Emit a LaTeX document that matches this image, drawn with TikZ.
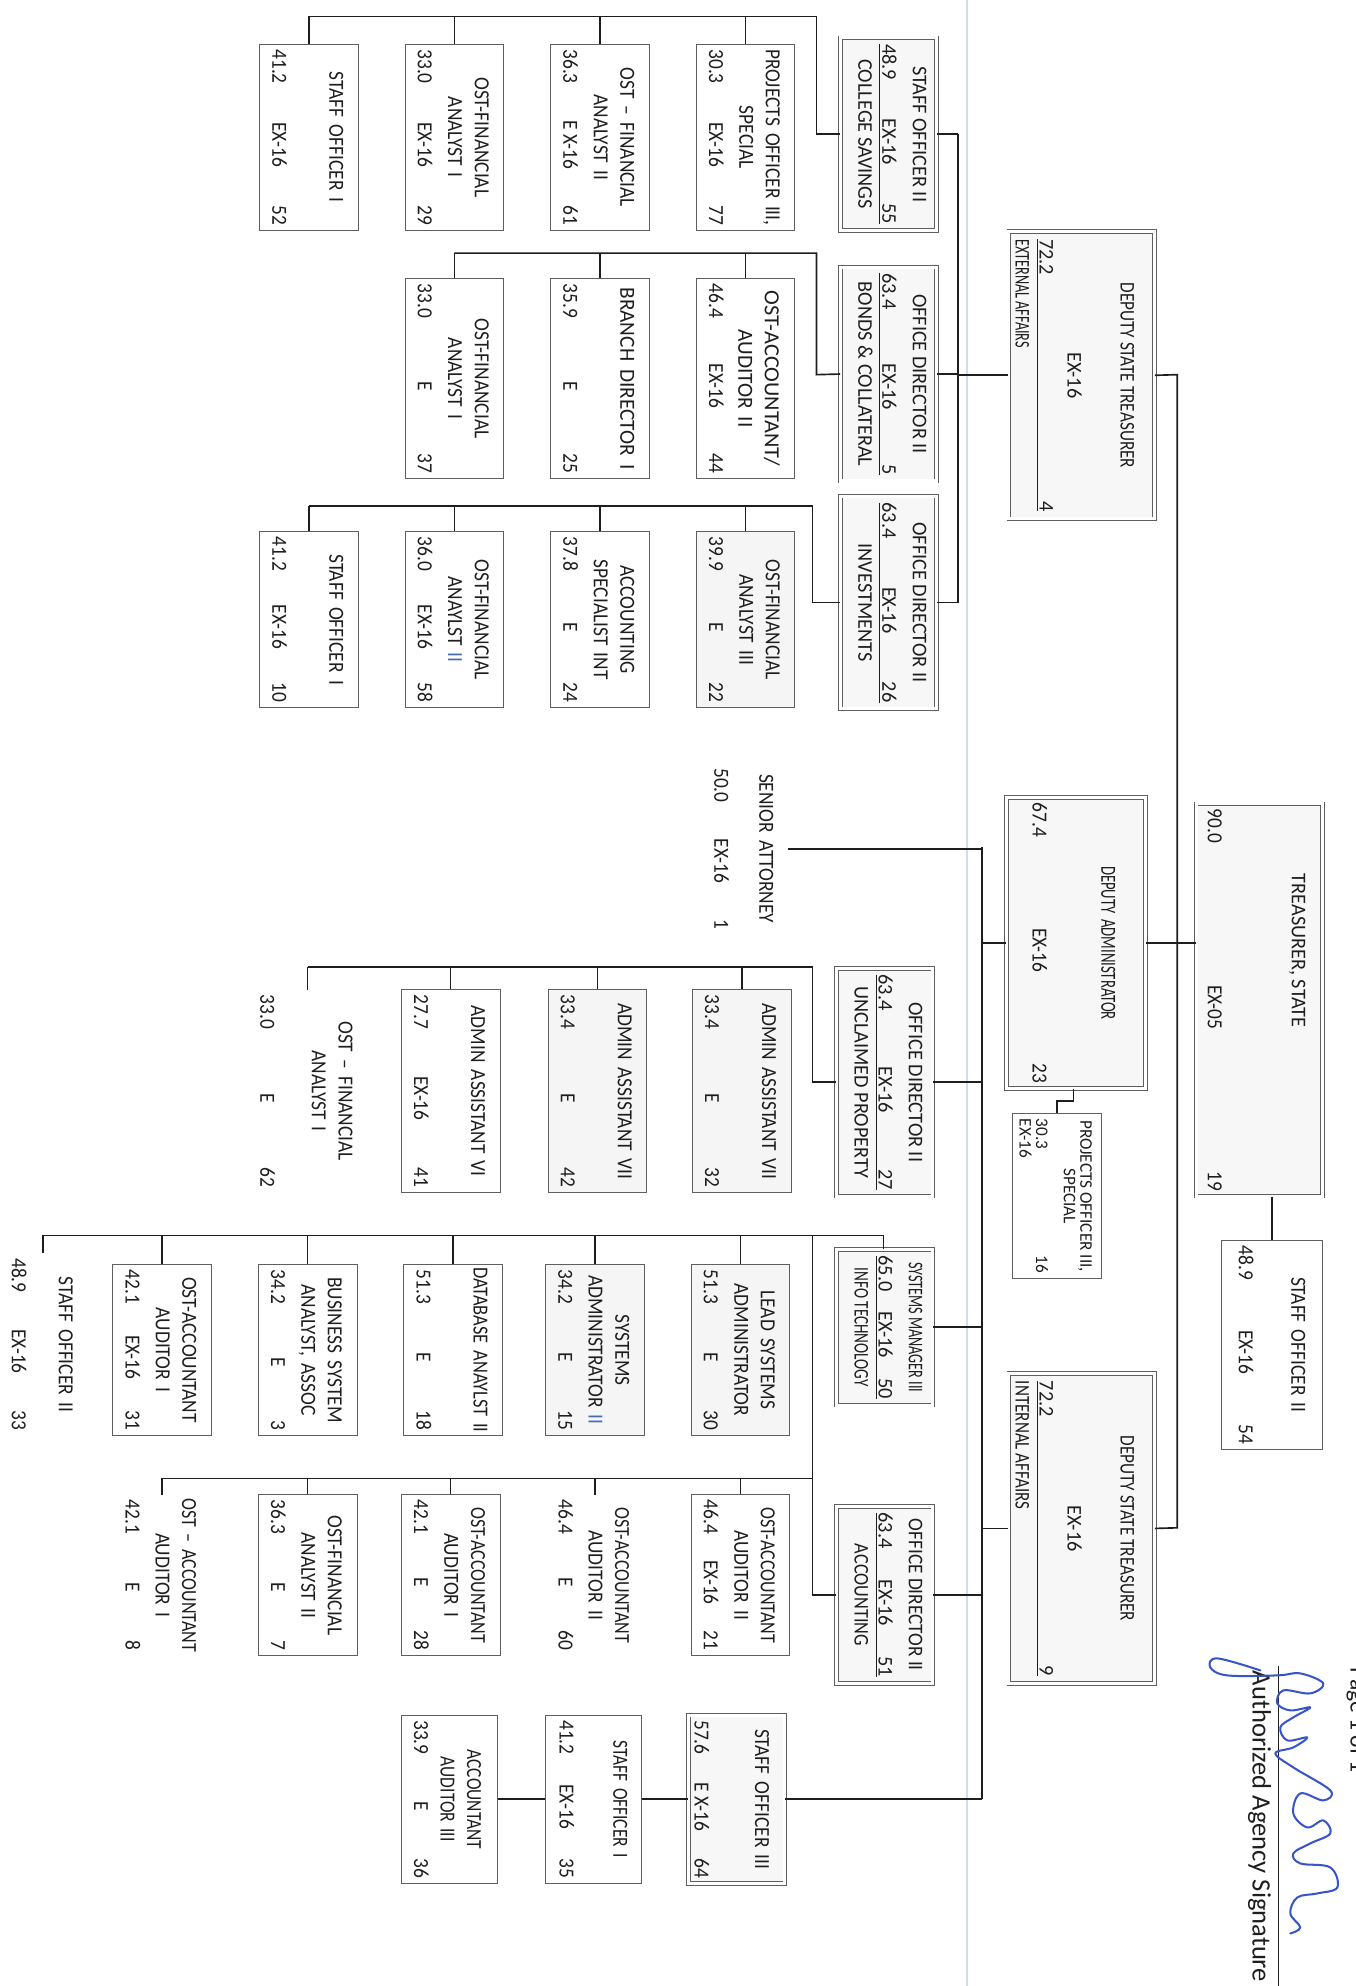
\documentclass[tikz,border=0pt]{standalone}
\usepackage{fontspec}
\usepackage{graphicx}
\setmainfont{Carlito}
\newfontfamily\chf[FakeStretch=0.9]{Carlito}
\newfontfamily\hdf[FakeStretch=0.97]{Carlito}
\usetikzlibrary{calc}
\definecolor{ink}{RGB}{30,30,30}
\definecolor{boxline}{RGB}{95,95,95}
\definecolor{fold}{RGB}{205,222,238}
\definecolor{sigblue}{RGB}{55,85,200}
\definecolor{iiblue}{RGB}{70,110,170}
\tikzset{
  conn/.style={draw=ink, line width=1.3pt},
  cbox/.style={draw=boxline, line width=0.7pt, fill=white, rectangle, inner sep=0pt},
  gbox/.style={cbox, fill=black!4},
  nobox/.style={draw=none, rectangle, inner sep=0pt},
  hbox/.style={draw=boxline, line width=0.6pt, double=white, double distance=2.4pt, fill=black!3, rectangle, inner sep=0pt},
  ttl/.style={font=\chf\fontsize{17}{21}\selectfont, align=center, inner sep=0pt, text=ink},
  rowt/.style={font=\chf\fontsize{17}{21}\selectfont, inner sep=0pt, text=ink},
  htxt/.style={font=\hdf\fontsize{16.5}{20}\selectfont, inner sep=0pt, text=ink},
}
\newcommand\sx[2]{\scalebox{#1}[1]{#2}}
\newcommand\tpad{12}
\newcommand\bpad{10.5}
\newcommand\bw{78}
% [style]{name}{cx}{ytop}{ybot}{title}{row}
\newcommand\chbox[7][cbox]{%
  \pgfmathsetmacro\cy{(#4+#5)/2}%
  \pgfmathsetmacro\bl{#5-#4}%
  \pgfmathsetmacro\tw{#5-#4-4}%
  \pgfmathsetmacro\rw{#5-#4-8}%
  \node[#1, minimum width=\bl pt, minimum height=\bw pt] (#2) at (\cy,#3) {};
  \node[ttl, text width=\tw pt, anchor=north] (#2t) at ([yshift=-\tpad pt]#2.north) {#6};
  \node[rowt, anchor=base] (#2r) at ([yshift=\bpad pt]#2.south) {\hbox to \rw pt{#7}};
}
\newcommand\hcen[1]{\hbox to\hsize{\hfil #1\hfil}}
\newcommand\hrow[1]{\hbox to\hsize{#1}\kern1.5pt\hrule height .8pt\kern2.5pt}
\newcommand\hlft[1]{\hbox to\hsize{\strut #1\hfil}}
% {name}{cx}{w}{ytop}{ybot}{content}
\newcommand\hdbox[6]{%
  \pgfmathsetmacro\cy{(#4+#5)/2}%
  \pgfmathsetmacro\bl{#5-#4}%
  \pgfmathsetmacro\tw{#5-#4-10}%
  \node[hbox, minimum width=\bl pt, minimum height=#3pt] (#1) at (\cy,#2) {};
  \node[htxt] (#1t) at (#1.center) {\vbox{\hsize=\tw pt\relax #6}};
}
\newcommand\II{\textcolor{iiblue}{II}}
\begin{document}
\begin{tikzpicture}[x=1pt,y=1pt]
\fill[white] (0,0) rectangle (1071,-1569);
\useasboundingbox (0,0) rectangle (1071,-1569);
\draw[fold, line width=1.2pt] (764,0) -- (764,-1569);

\begin{scope}[rotate=-90,transform shape]
% ---------- top level ----------
\renewcommand\bw{100}\renewcommand\tpad{14}\renewcommand\bpad{9.5}
\chbox[hbox]{T}{995}{635}{945}{}{90.0\hfill EX-05\hfill 19}
\node[htxt] (Tname) at (751,1025) {TREASURER, STATE};
\renewcommand\bw{80}\renewcommand\tpad{14}\renewcommand\bpad{14}
\chbox[cbox]{SO54}{1005}{980}{1145}{STAFF OFFICER II}{48.9\hfill EX-16\hfill 54}
\renewcommand\bw{110}\renewcommand\tpad{24}\renewcommand\bpad{21}
\chbox[hbox]{DA}{850}{630}{860}{\sx{0.76}{DEPUTY ADMINISTRATOR}}{67.4\hfill EX-16\hfill 23}

\node[hbox, minimum width=227pt, minimum height=115pt] (DE) at (296.5,854.5) {};
\node[htxt, anchor=north] (DEt) at ([yshift=-16pt]DE.north) {\vbox{\hsize=215pt\relax
  \hcen{\sx{0.85}{DEPUTY STATE TREASURER}}\kern22pt\hcen{EX-16}\kern2pt
  \hrow{72.2\hfill 4}\hlft{\sx{0.7}{EXTERNAL AFFAIRS}}}};
\node[hbox, minimum width=245pt, minimum height=115pt] (DI) at (1207.5,854.5) {};
\node[htxt, anchor=north] (DIt) at ([yshift=-16pt]DI.north) {\vbox{\hsize=233pt\relax
  \hcen{\sx{0.85}{DEPUTY STATE TREASURER}}\kern22pt\hcen{EX-16}\kern2pt
  \hrow{72.2\hfill 9}\hlft{\sx{0.84}{INTERNAL AFFAIRS}}}};

\node[cbox, minimum width=130pt, minimum height=70pt] (PO16) at (945,835) {};
\node[font=\hdf\fontsize{14}{13}\selectfont, text=ink, inner sep=0pt, anchor=north] (PO16t) at ([yshift=-7.5pt]PO16.north) {\vbox{\hsize=122pt\relax
  \hcen{PROJECTS OFFICER III,}\hcen{SPECIAL}\kern9pt
  \hbox to\hsize{30.3\hfill 16}\hbox to\hsize{EX-16\hfil}}};

% ---------- department heads ----------
\hdbox{P1}{702}{76}{30}{182}{\hcen{STAFF OFFICER II}\kern4pt\hrow{48.9\hfill EX-16\hfill 55}\hcen{\strut COLLEGE SAVINGS}}
\hdbox{P2}{702}{76}{211}{380}{\hcen{OFFICE DIRECTOR II}\kern4pt\hrow{63.4\hfill EX-16\hfill 5}\hcen{\strut BONDS \& COLLATERAL}}
\hdbox{P3}{702}{76}{392}{560}{\hcen{OFFICE DIRECTOR II}\kern4pt\hrow{63.4\hfill EX-16\hfill 26}\hcen{\strut INVESTMENTS}}
\hdbox{P4}{699}{76}{765}{945}{\hcen{OFFICE DIRECTOR II}\kern4pt\hrow{63.4\hfill EX-16\hfill 27}\hcen{\strut UNCLAIMED PROPERTY}}
\hdbox{P5}{699}{76}{987}{1110}{\hcen{\sx{0.7}{SYSTEMS MANAGER III}}\kern4pt\hrow{65.0\hfill EX-16\hfill 50}\hcen{\strut\sx{0.75}{INFO TECHNOLOGY}}}
\hdbox{P6}{699}{76}{1190}{1330}{\hcen{\sx{0.95}{OFFICE DIRECTOR II}}\kern4pt\hrow{63.4\hfill EX-16\hfill 51}\hcen{\strut\sx{0.9}{ACCOUNTING}}}

% ---------- senior attorney ----------
\renewcommand\bw{64}\renewcommand\tpad{11}\renewcommand\bpad{6.5}
\chbox[nobox]{SA}{590}{603}{738}{SENIOR ATTORNEY}{50.0\hfill EX-16\hfill 1}

% ---------- children ----------
\renewcommand\bw{78}\renewcommand\tpad{12}\renewcommand\bpad{10.5}
\chbox{c1a}{589}{35}{182}{PROJECTS OFFICER III,\\SPECIAL}{30.3\hfill EX-16\hfill 77}
\chbox{c1b}{474}{35}{182}{OST – FINANCIAL\\ANALYST II}{36.3\hfill E X-16\hfill 61}
\chbox{c1c}{359}{35}{182}{OST-FINANCIAL\\ANALYST I}{33.0\hfill EX-16\hfill 29}
\chbox{c1d}{244}{35}{182}{STAFF OFFICER I}{41.2\hfill EX-16\hfill 52}

\chbox{c2a}{589}{220}{378}{\sx{1.15}{OST-ACCOUNTANT/}\\\sx{1.1}{AUDITOR II}}{46.4\hfill EX-16\hfill 44}
\chbox{c2b}{474}{220}{378}{\sx{1.1}{BRANCH DIRECTOR I}}{35.9\hfill E\hfill 25}
\chbox{c2c}{359}{220}{378}{OST-FINANCIAL\\ANALYST I}{33.0\hfill E\hfill 37}

\chbox[gbox]{c3a}{589}{420}{559}{OST-FINANCIAL\\ANALYST III}{39.9\hfill E\hfill 22}
\chbox{c3b}{474}{420}{559}{ACCOUNTING\\SPECIALIST INT}{37.8\hfill E\hfill 24}
\chbox{c3c}{359}{420}{559}{OST-FINANCIAL\\ANAYLST \II}{36.0\hfill EX-16\hfill 58}
\chbox{c3d}{244}{420}{559}{STAFF OFFICER I}{41.2\hfill EX-16\hfill 10}

\chbox[gbox]{c4a}{586}{782}{942}{ADMIN ASSISTANT VII}{33.4\hfill E\hfill 32}
\chbox[gbox]{c4b}{472}{782}{942}{ADMIN ASSISTANT VII}{33.4\hfill E\hfill 42}
\chbox{c4c}{356}{782}{942}{ADMIN ASSISTANT VI}{27.7\hfill EX-16\hfill 41}
\renewcommand\bw{95}
\chbox[nobox]{c4d}{243}{782}{942}{OST – FINANCIAL\\ANALYST I}{33.0\hfill E\hfill 62}
\renewcommand\bw{78}

\chbox[gbox]{c5a}{585}{999}{1134}{LEAD SYSTEMS\\ADMINISTRATOR}{51.3\hfill E\hfill 30}
\chbox[gbox]{c5b}{470}{999}{1134}{SYSTEMS\\ADMINISTRATOR \II}{34.2\hfill E\hfill 15}
\chbox{c5c}{358}{999}{1134}{\sx{0.95}{DATABASE ANAYLST II}}{51.3\hfill E\hfill 18}
\chbox{c5d}{243}{999}{1134}{BUSINESS SYSTEM\\ANALYST, ASSOC}{34.2\hfill E\hfill 3}
\chbox{c5e}{128}{999}{1134}{OST-ACCOUNTANT\\AUDITOR I}{42.1\hfill EX-16\hfill 31}
\renewcommand\bw{60}\renewcommand\tpad{6.5}\renewcommand\bpad{5.5}
\chbox[nobox]{c5f}{34}{990}{1134}{STAFF OFFICER II}{48.9\hfill EX-16\hfill 33}
\renewcommand\bw{78}\renewcommand\tpad{12}\renewcommand\bpad{10.5}

\chbox{c6a}{585}{1181}{1308}{\sx{0.93}{OST-ACCOUNTANT}\\AUDITOR II}{46.4\hfill EX-16\hfill 21}
\chbox[nobox]{c6b}{470}{1181}{1308}{\sx{0.93}{OST-ACCOUNTANT}\\AUDITOR II}{46.4\hfill E\hfill 60}
\chbox{c6c}{356}{1181}{1308}{\sx{0.93}{OST-ACCOUNTANT}\\AUDITOR I}{42.1\hfill E\hfill 28}
\chbox{c6d}{243}{1181}{1308}{OST-FINANCIAL\\ANALYST II}{36.3\hfill E\hfill 7}
\chbox[nobox]{c6e}{128}{1181}{1308}{\sx{0.93}{OST – ACCOUNTANT}\\AUDITOR I}{42.1\hfill E\hfill 8}

\renewcommand\bw{76}\renewcommand\tpad{12.5}\renewcommand\bpad{5}
\chbox[hbox]{so3}{582}{1355}{1488}{STAFF OFFICER III}{57.6\hfill E X-16\hfill 64}
\renewcommand\tpad{11.5}\renewcommand\bpad{11.5}
\chbox{so1}{469}{1355}{1488}{\sx{0.9}{STAFF OFFICER I}}{41.2\hfill EX-16\hfill 35}
\renewcommand\tpad{13}\renewcommand\bpad{10.5}
\chbox{aa3}{355}{1355}{1488}{\sx{0.9}{ACCOUNTANT}\\\sx{0.9}{AUDITOR III}}{33.9\hfill E\hfill 36}

% ---------- connectors ----------
% inside this rotated scope (A |- B) takes the image row of A and the image column of B
\coordinate (busTop) at (296,930);
\coordinate (busBot) at (1207,930);
\draw[conn] (DA.north |- T.south west) -- (DA.north);
\draw[conn] (DE.north) -- (busTop) -- (busBot) -- (DI.north);
\draw[conn] (T.east |- SO54.west) -- (SO54.west);

% deputy external bus
\coordinate (deb1) at (106,757);
\coordinate (deb3) at (476,757);
\draw[conn] (deb1) -- (deb3);
\draw[conn] (DE.south) -- (DE.south |- deb1);
\draw[conn] (P1.north) -- (P1.north |- deb1);
\draw[conn] (P2.north) -- (P2.north |- deb1);
\draw[conn] (P3.north) -- (P3.north |- deb1);

% college savings
\coordinate (b1a) at (106,645);
\coordinate (b1b) at (13,645);
\coordinate (b1c) at (13,244);
\draw[conn] (P1.south) -- (b1a) -- (b1b) -- (b1c);
\foreach \n in {c1a,c1b,c1c,c1d} \draw[conn] (\n.west) -- (b1b |- \n.west);
% bonds
\coordinate (b2a) at (296,645);
\coordinate (b2b) at (200,645);
\coordinate (b2c) at (200,359);
\draw[conn] (P2.south) -- (b2a) -- (b2b) -- (b2c);
\foreach \n in {c2a,c2b,c2c} \draw[conn] (\n.west) -- (b2b |- \n.west);
% investments
\coordinate (b3a) at (476,642);
\coordinate (b3b) at (400,642);
\coordinate (b3c) at (400,244);
\draw[conn] (P3.south) -- (b3a) -- (b3b) -- (b3c);
\foreach \n in {c3a,c3b,c3c,c3d} \draw[conn] (\n.west) -- (b3b |- \n.west);
% unclaimed property
\coordinate (b4a) at (855,642);
\coordinate (b4b) at (764,642);
\coordinate (b4c) at (764,243);
\draw[conn] (P4.south) -- (b4a) -- (b4b) -- (b4c);
\foreach \n in {c4a,c4b,c4c,c4d} \draw[conn] (\n.west) -- (b4b |- \n.west);
% info technology
\coordinate (b5t) at (976,698);
\coordinate (b5c) at (976,34);
\draw[conn] (b5c) -- (b5t) -- (P5.west |- b5t);
\foreach \n in {c5a,c5b,c5c,c5d,c5e,c5f} \draw[conn] (\n.west) -- (b5t |- \n.west);
% accounting
\coordinate (b6j) at (976,642);
\coordinate (b6a) at (1260,642);
\coordinate (b6b) at (1168,642);
\coordinate (b6c) at (1168,128);
\draw[conn] (b6j) -- (b6a) -- (P6.south);
\draw[conn] (b6b) -- (b6c);
\foreach \n in {c6a,c6b,c6c,c6d,c6e} \draw[conn] (\n.west) -- (b6b |- \n.west);

% deputy administrator / internal bus
\coordinate (dab1) at (669,776);
\coordinate (dab2) at (1421,776);
\draw[conn] (dab1) -- (dab2);
\draw[conn] (DA.south) -- (DA.south |- dab1);
\draw[conn] (SA.north) -- (SA.north |- dab1);
\draw[conn] (P4.north) -- (P4.north |- dab1);
\draw[conn] (P5.north) -- (P5.north |- dab1);
\draw[conn] (DI.south) -- (DI.south |- dab1);
\draw[conn] (P6.north) -- (P6.north |- dab1);
\draw[conn] (so3.north) -- (so3.north |- dab1);
\draw[conn] (so3.south) -- (so1.north);
\draw[conn] (so1.south) -- (aa3.north);
% projects officer 16
\coordinate (po1) at (870,848);
\coordinate (po2) at (870,835);
\draw[conn] (DA.east |- po1) -- (po1) -- (po2) -- (PO16.west);
\end{scope}

% ---------- signature block ----------
\node[rotate=-90, anchor=base, font=\fontsize{18.7}{20}\selectfont, text=ink, inner sep=0pt] (pg) at (1067,-1359) {Page 1 of 1};
\node[rotate=-90, font=\fontsize{21}{24}\selectfont, text=ink, inner sep=0pt] (sigtxt) at (995,-1443) {Authorized Agency Signature};
\draw[ink, line width=1pt] (1010,-1316) -- (1010,-1569);
\begin{scope}[x=0.7902pt,y=-0.7902pt]
\draw[sigblue, line width=1.6pt, line cap=round, line join=round] plot[smooth, tension=0.6] coordinates {
 (1260,1670) (1217,1658) (1210,1667) (1227,1675) (1277,1675) (1300,1673) (1323,1683)
 (1310,1693) (1283,1690) (1277,1703) (1290,1710) (1310,1707) (1293,1717) (1280,1727)
 (1287,1740) (1307,1737) (1293,1747) (1275,1753) (1293,1767) (1330,1790) (1323,1800)
 (1300,1793) (1293,1813) (1307,1827) (1323,1820) (1330,1833) (1310,1843) (1293,1853)
 (1300,1863) (1330,1867) (1337,1887) (1317,1893) (1297,1897) (1290,1913) (1300,1927) (1290,1933)};
\end{scope}
\end{tikzpicture}
\end{document}
